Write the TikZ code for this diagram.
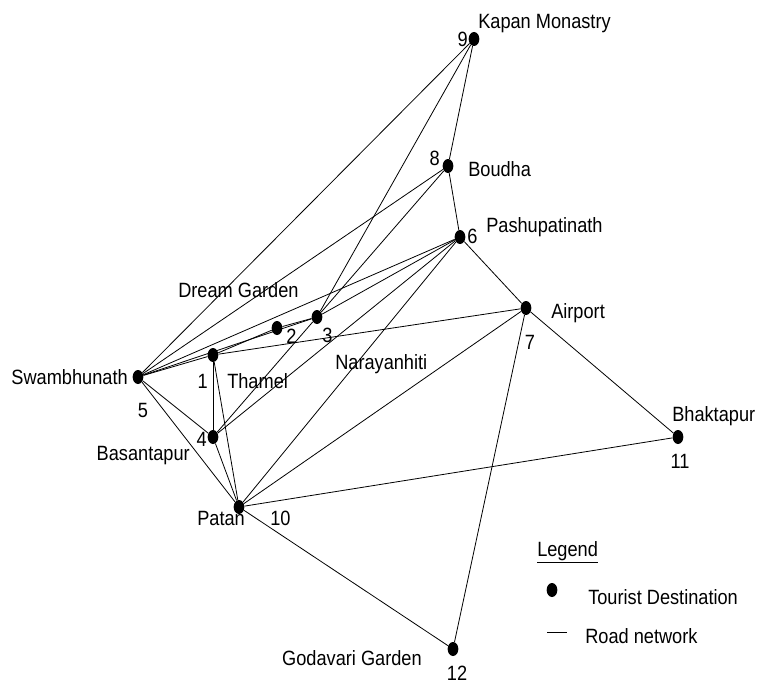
\documentclass[tikz,border=0pt]{standalone}
\usepackage{fontspec}
\setmainfont{Liberation Sans}[FakeStretch=0.88]
\usetikzlibrary{shapes.geometric}

\tikzset{
  dot/.style={ellipse,fill=black,inner sep=0pt,minimum width=8pt,minimum height=10.5pt},
  road/.style={line width=0.6pt},
  lbl/.style={inner sep=0pt,font=\fontsize{15.5}{18}\selectfont}
}

\begin{document}
\begin{tikzpicture}[x=0.75pt,y=-0.75pt]
\useasboundingbox (0,0) rectangle (757,685);

% destinations
\node[dot] (n1) at (213,355) {};
\node[dot] (n2) at (277,328) {};
\node[dot] (n3) at (317,317) {};
\node[dot] (n4) at (213,437) {};
\node[dot] (n5) at (138,377) {};
\node[dot] (n6) at (460,237) {};
\node[dot] (n7) at (526,308) {};
\node[dot] (n8) at (448,166) {};
\node[dot] (n9) at (474,39) {};
\node[dot] (n10) at (239,507) {};
\node[dot] (n11) at (678,437) {};
\node[dot] (n12) at (453,649) {};

% roads
\draw[road] (n9) -- (n5);
\draw[road] (n9) -- (n3);
\draw[road] (n9) -- (n8);
\draw[road] (n8) -- (n5);
\draw[road] (n8) -- (n3);
\draw[road] (n3) -- (n4);
\draw[road] (n8) -- (n6);
\draw[road] (n6) -- (n5);
\draw[road] (n6) -- (n3);
\draw[road] (n6) -- (n4);
\draw[road] (n6) -- (n10);
\draw[road] (n6) -- (n7);
\draw[road] (n5) -- (n3);
\draw[road] (n2) -- (n3);
\draw[road] (n1) -- (n2);
\draw[road] (n5) -- (n1);
\draw[road] (n1) -- (n7);
\draw[road] (n1) -- (n4);
\draw[road] (n1) -- (n10);
\draw[road] (n5) -- (n4);
\draw[road] (n5) -- (n10);
\draw[road] (n4) -- (n10);
\draw[road] (n7) -- (n10);
\draw[road] (n7) -- (n11);
\draw[road] (n7) -- (n12);
\draw[road] (n10) -- (n11);
\draw[road] (n10) -- (n12);

% numbers
\node[lbl,anchor=base east] (t1) at (208,388) {1};
\node[lbl,anchor=base west] (t2) at (286,343) {2};
\node[lbl,anchor=base west] (t3) at (322,342) {3};
\node[lbl,anchor=base east] (t4) at (207,446) {4};
\node[lbl,anchor=base] (t5) at (143,417) {5};
\node[lbl,anchor=base west] (t6) at (467,243) {6};
\node[lbl,anchor=base] (t7) at (530,349) {7};
\node[lbl,anchor=base east] (t8) at (440,166) {8};
\node[lbl,anchor=base east] (t9) at (468,47) {9};
\node[lbl,anchor=base west] (t10) at (270,525) {10};
\node[lbl,anchor=base] (t11) at (680,468) {11};
\node[lbl,anchor=base] (t12) at (457,680) {12};

% names
\node[lbl,anchor=base west] (s9) at (478,29) {Kapan Monastry};
\node[lbl,anchor=base west] (s8) at (468,176) {Boudha};
\node[lbl,anchor=base west] (s6) at (486,232) {Pashupatinath};
\node[lbl,anchor=base west] (s7) at (551,318) {Airport};
\node[lbl,anchor=base west] (s2) at (178,297) {Dream Garden};
\node[lbl,anchor=base west] (s3) at (335,369) {Narayanhiti};
\node[lbl,anchor=base west] (s1) at (227,388) {Thamel};
\node[lbl,anchor=base east] (s5) at (128,384) {Swambhunath};
\node[lbl,anchor=base east] (s4) at (190,460) {Basantapur};
\node[lbl,anchor=base west] (s10) at (197,525) {Patan};
\node[lbl,anchor=base west] (s11) at (672,421) {Bhaktapur};
\node[lbl,anchor=base east] (s12) at (422,665) {Godavari Garden};

% legend
\node[lbl,anchor=base west] (leg) at (537,556) {\underline{Legend}};
\node[dot] (legdot) at (552,590) {};
\node[lbl,anchor=base west] (legdest) at (588,604) {Tourist Destination};
\coordinate (rd1) at (547,632);
\coordinate (rd2) at (567,632);
\draw[road] (rd1) -- (rd2);
\node[lbl,anchor=base west] (legroad) at (585,643) {Road network};
\end{tikzpicture}
\end{document}
